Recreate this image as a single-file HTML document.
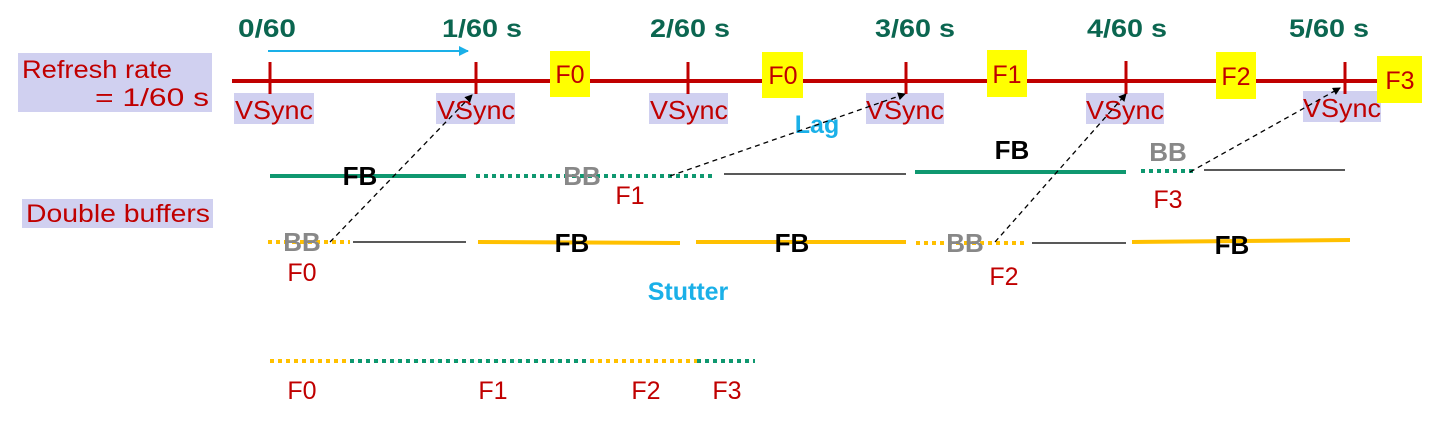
<!DOCTYPE html>
<html><head><meta charset="utf-8"><style>body{margin:0;background:#fff}svg{display:block}text{}</style></head><body>
<svg width="1442" height="428" xmlns="http://www.w3.org/2000/svg" font-family="Liberation Sans, DejaVu Sans, sans-serif">
<defs><marker id="ah" markerWidth="8" markerHeight="8" refX="7" refY="4" orient="auto" markerUnits="userSpaceOnUse"><path d="M0,0L8,4L0,8z" fill="#000"/></marker>
<marker id="ac" markerWidth="10" markerHeight="10" refX="9" refY="5" orient="auto" markerUnits="userSpaceOnUse"><path d="M0,0L10,5L0,10z" fill="#1ab0e8"/></marker></defs>
<rect x="18" y="53" width="194" height="59" fill="#d0d0f0"/>
<text x="22" y="78" font-size="25" fill="#c00000" textLength="150" lengthAdjust="spacingAndGlyphs">Refresh rate</text>
<text x="95" y="106" font-size="25" fill="#c00000" textLength="114" lengthAdjust="spacingAndGlyphs">= 1/60 s</text>
<rect x="22" y="199" width="191" height="29" fill="#d0d0f0"/>
<text x="26" y="222" font-size="25" fill="#c00000" textLength="184" lengthAdjust="spacingAndGlyphs">Double buffers</text>
<g font-size="25" font-weight="bold" fill="#0b6650">
<text x="238" y="37" textLength="58" lengthAdjust="spacingAndGlyphs">0/60</text><text x="442" y="37" textLength="80" lengthAdjust="spacingAndGlyphs">1/60 s</text><text x="650" y="37" textLength="80" lengthAdjust="spacingAndGlyphs">2/60 s</text>
<text x="875" y="37" textLength="80" lengthAdjust="spacingAndGlyphs">3/60 s</text><text x="1087" y="37" textLength="80" lengthAdjust="spacingAndGlyphs">4/60 s</text><text x="1289" y="37" textLength="80" lengthAdjust="spacingAndGlyphs">5/60 s</text></g>
<line x1="268" y1="51" x2="468" y2="51" stroke="#1ab0e8" stroke-width="2" marker-end="url(#ac)"/>
<g fill="#d0d0f0"><rect x="234" y="93" width="80" height="31"/><rect x="436" y="93" width="79" height="31"/><rect x="649" y="93" width="79" height="31"/><rect x="866" y="93" width="78" height="31"/><rect x="1086" y="93" width="78" height="31"/><rect x="1303" y="91" width="78" height="31"/></g>
<g font-size="26" fill="#c00000"><text x="235" y="119" textLength="78" lengthAdjust="spacingAndGlyphs">VSync</text><text x="437" y="119" textLength="78" lengthAdjust="spacingAndGlyphs">VSync</text><text x="650" y="119" textLength="78" lengthAdjust="spacingAndGlyphs">VSync</text><text x="866" y="119" textLength="78" lengthAdjust="spacingAndGlyphs">VSync</text><text x="1086" y="119" textLength="78" lengthAdjust="spacingAndGlyphs">VSync</text><text x="1303" y="117" textLength="78" lengthAdjust="spacingAndGlyphs">VSync</text></g>
<line x1="232" y1="81" x2="1380" y2="81" stroke="#c00000" stroke-width="4"/>
<g stroke="#c00000" stroke-width="3"><line x1="270" y1="62" x2="270" y2="94"/><line x1="476" y1="62" x2="476" y2="94"/><line x1="688" y1="62" x2="688" y2="94"/><line x1="906" y1="62" x2="906" y2="94"/><line x1="1126" y1="61" x2="1126" y2="94"/><line x1="1345" y1="62" x2="1345" y2="94"/></g>
<g fill="#ffff00"><rect x="550" y="51" width="40" height="46"/><rect x="762" y="52" width="41" height="46"/><rect x="987" y="50" width="40" height="47"/><rect x="1216" y="52" width="40" height="47"/><rect x="1377" y="56" width="45" height="47"/></g>
<g font-size="25" fill="#c00000" text-anchor="middle"><text x="570" y="83">F0</text><text x="783" y="84">F0</text><text x="1007" y="83">F1</text><text x="1236" y="85">F2</text><text x="1400" y="89">F3</text></g>
<g stroke="#0f9870" stroke-width="4"><line x1="270" y1="176" x2="466" y2="176"/><line x1="476" y1="176" x2="716" y2="176" stroke-dasharray="4,4"/><line x1="915" y1="172" x2="1126" y2="172"/><line x1="1141" y1="171" x2="1196" y2="171" stroke-dasharray="4,4"/></g>
<line x1="724" y1="174" x2="906" y2="174" stroke="#222" stroke-width="1.5"/>
<line x1="1204" y1="170" x2="1345" y2="170" stroke="#222" stroke-width="1.5"/>
<g stroke="#ffc000" stroke-width="4"><line x1="268" y1="242" x2="350" y2="242" stroke-dasharray="4,4"/><line x1="478" y1="242" x2="680" y2="243"/><line x1="696" y1="242" x2="906" y2="242"/><line x1="916" y1="243" x2="1025" y2="243" stroke-dasharray="4,4"/><line x1="1132" y1="242" x2="1350" y2="240"/></g>
<line x1="353" y1="242" x2="466" y2="242" stroke="#222" stroke-width="1.5"/>
<line x1="1032" y1="243" x2="1126" y2="243" stroke="#222" stroke-width="1.5"/>
<g font-size="26" font-weight="bold" text-anchor="middle">
<text x="360" y="185" fill="#000">FB</text><text x="582" y="185" fill="#888">BB</text><text x="1012" y="159" fill="#000">FB</text><text x="1168" y="161" fill="#888">BB</text>
<text x="302" y="251" fill="#888">BB</text><text x="572" y="252" fill="#000">FB</text><text x="792" y="252" fill="#000">FB</text><text x="965" y="252" fill="#888">BB</text><text x="1232" y="254" fill="#000">FB</text></g>
<g font-size="25" fill="#c00000" text-anchor="middle"><text x="630" y="204">F1</text><text x="1168" y="208">F3</text><text x="302" y="281">F0</text><text x="1004" y="285">F2</text></g>
<text x="817" y="133" font-size="25" font-weight="bold" fill="#1ab0e8" text-anchor="middle">Lag</text>
<text x="688" y="300" font-size="25" font-weight="bold" fill="#1ab0e8" text-anchor="middle">Stutter</text>
<g stroke="#000" stroke-width="1.3" stroke-dasharray="5,4" fill="none"><line x1="330" y1="242" x2="472" y2="95" marker-end="url(#ah)"/><line x1="670" y1="176" x2="905" y2="94" marker-end="url(#ah)"/><line x1="995" y1="242" x2="1126" y2="94" marker-end="url(#ah)"/><line x1="1190" y1="172" x2="1340" y2="88" marker-end="url(#ah)"/></g>
<g stroke-width="4" stroke-dasharray="4,4"><line x1="270" y1="361" x2="350" y2="361" stroke="#ffc000"/><line x1="350" y1="361" x2="590" y2="361" stroke="#0f9870"/><line x1="590" y1="361" x2="697" y2="361" stroke="#ffc000"/><line x1="697" y1="361" x2="755" y2="361" stroke="#0f9870"/></g>
<g font-size="25" fill="#c00000" text-anchor="middle"><text x="302" y="399">F0</text><text x="493" y="399">F1</text><text x="646" y="399">F2</text><text x="727" y="399">F3</text></g>
</svg>
</body></html>
